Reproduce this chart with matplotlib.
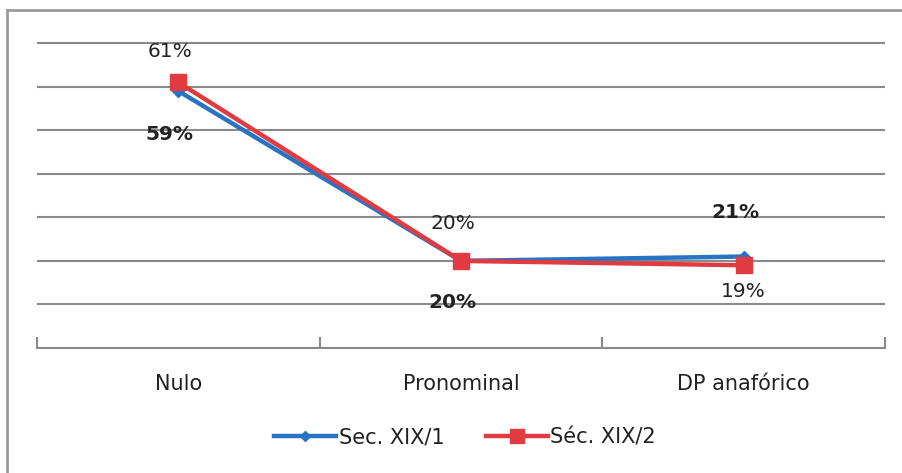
import matplotlib.pyplot as plt
from matplotlib.lines import Line2D

categories = ["Nulo", "Pronominal", "DP anafórico"]
sec1_values = [59, 20, 21]
sec2_values = [61, 20, 19]
sec1_name = "Sec. XIX/1"
sec2_name = "Séc. XIX/2"

plt.rcParams["font.family"] = ["DejaVu Sans"]

fig = plt.figure(figsize=(9.03, 4.73), dpi=100)
# a little headroom above 70 so the top gridline is not clipped
ax = fig.add_axes([37 / 903, 1 - 348 / 473, 848 / 903, 307.5 / 473])

x = list(range(len(categories)))
blue = "#2874c2"
red = "#df3b40"
txt = "#222222"

ax.plot(x, sec1_values, color=blue, lw=3.2, marker="D", ms=6,
        label=sec1_name, zorder=3)
ax.plot(x, sec2_values, color=red, lw=3.2, marker="s", ms=12,
        label=sec2_name, zorder=4)

# blue labels sit below on the first two points, above on the last
sec1_offsets = [-10, -9.5, 10]
sec2_offsets = [7, 8.5, -6]
for xi, v, off in zip(x, sec1_values, sec1_offsets):
    ax.text(xi - 0.03, v + off, f"{v}%", ha="center", va="center",
            fontsize=14.5, fontweight="bold", color=txt)
for xi, v, off in zip(x, sec2_values, sec2_offsets):
    ax.text(xi - (0.03 if xi < 2 else 0), v + off, f"{v}%", ha="center",
            va="center", fontsize=14.5, color=txt)

ax.set_xlim(-0.5, 2.5)
ax.set_ylim(0, 70.6)
ax.set_yticks(range(10, 71, 10))
ax.yaxis.grid(True, color="#8a8a8a", lw=1.5)
ax.tick_params(axis="y", length=0, labelleft=False)
ax.set_xticks(x)
ax.set_xticklabels(categories, fontsize=15, color=txt)
ax.set_xticks([-0.5, 0.5, 1.5, 2.5], minor=True)
ax.tick_params(axis="x", which="major", length=0, pad=19)
ax.tick_params(axis="x", which="minor", length=8, width=1.5,
               color="#8a8a8a", direction="in")
for s in ["top", "right", "left"]:
    ax.spines[s].set_visible(False)
ax.spines["bottom"].set_color("#8a8a8a")
ax.spines["bottom"].set_linewidth(1.5)
ax.set_axisbelow(True)

fig.legend(loc="center", bbox_to_anchor=(465 / 903, 1 - 437 / 473),
           ncol=2, frameon=False, fontsize=15, handlelength=3,
           columnspacing=2.0, handletextpad=0.1, markerscale=0.8,
           labelcolor=txt)

# chart frame on the top and left edges
fig.add_artist(Line2D([7 / 903, 1], [1 - 10 / 473] * 2,
                      color="#9a9a9a", lw=2, transform=fig.transFigure))
fig.add_artist(Line2D([7 / 903] * 2, [0, 1 - 10 / 473],
                      color="#9a9a9a", lw=2, transform=fig.transFigure))

fig.savefig("out.png", dpi=100, facecolor="white")
